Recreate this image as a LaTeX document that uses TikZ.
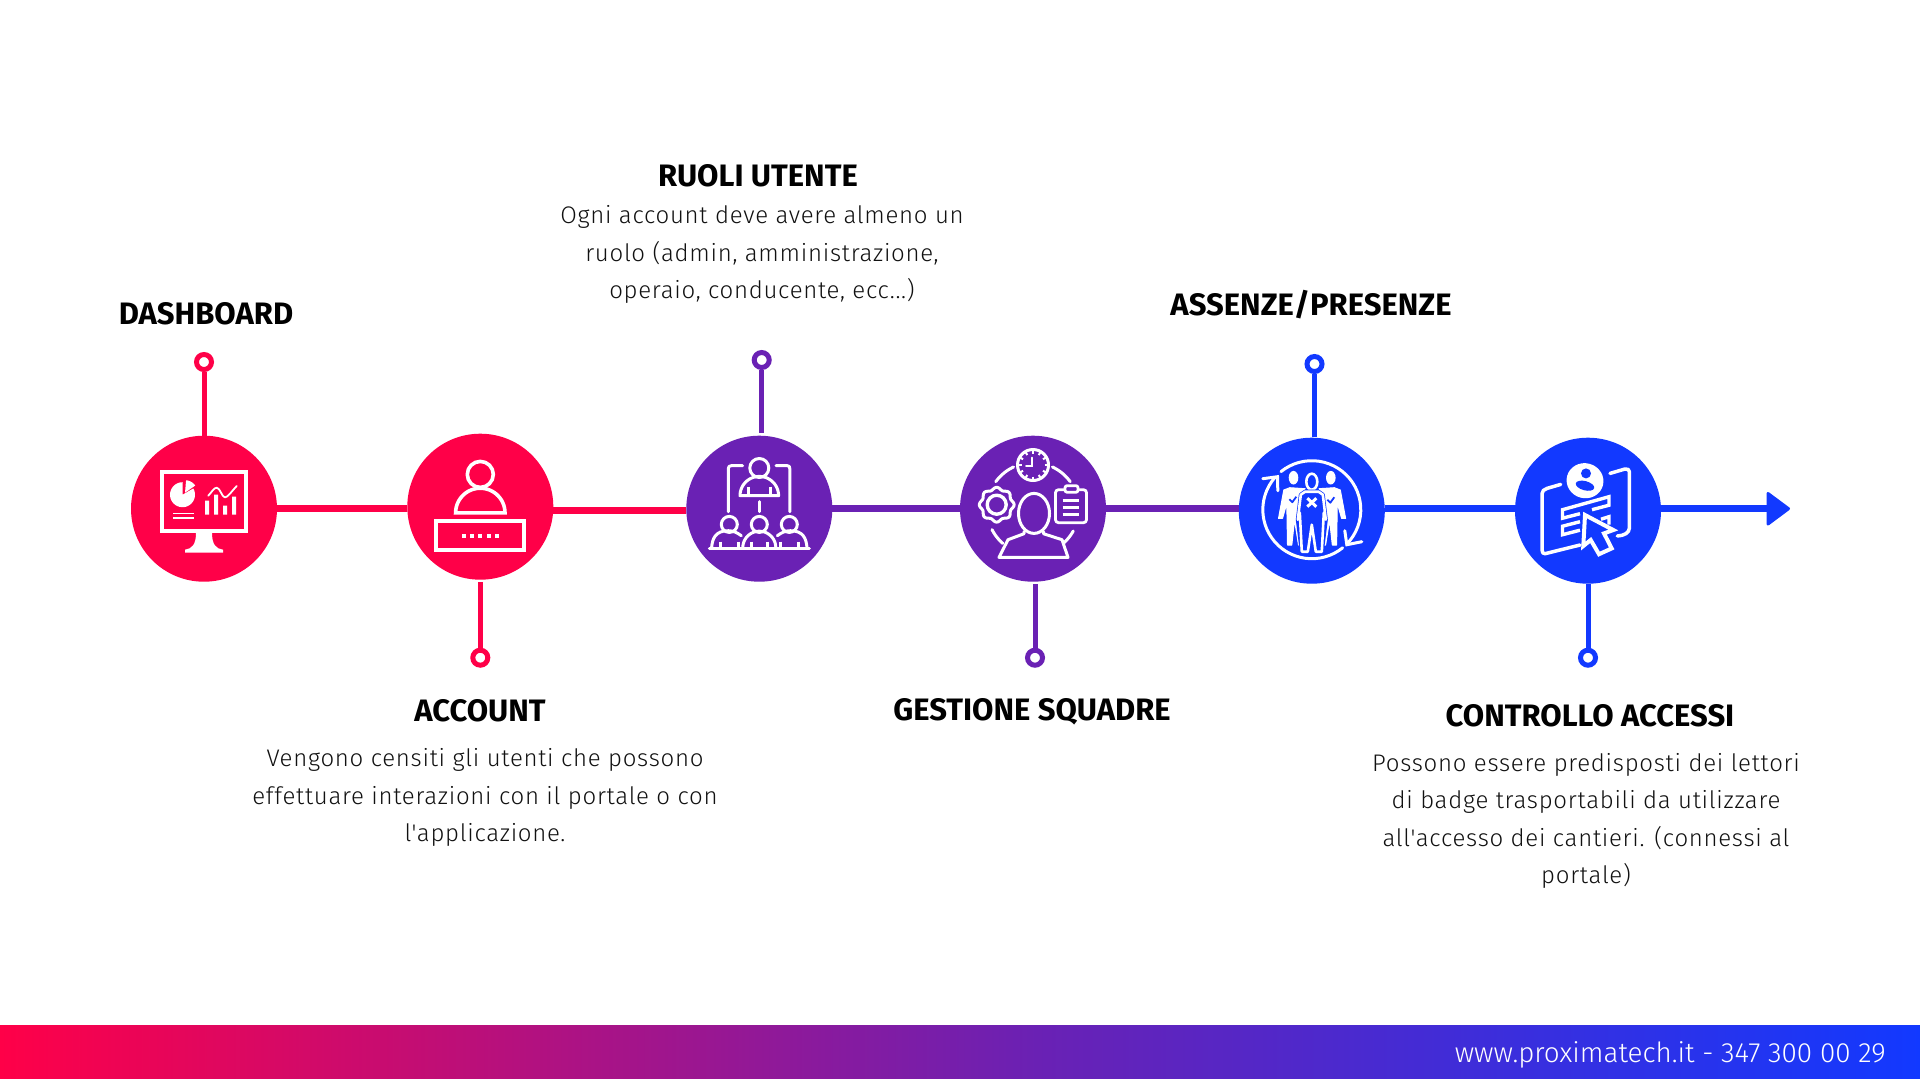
\documentclass[tikz,border=0pt]{standalone}
\usepackage{fontspec}
\setmainfont{Fira Sans}
\newfontfamily\bodyface[LetterSpace=3]{Fira Sans Light}
\newfontfamily\titleface{Fira Sans}[BoldFont={Fira Sans Bold}]
\newfontfamily\footface{Fira Sans Light}
\definecolor{cred}{HTML}{FF0048}
\definecolor{cpur}{HTML}{6A21B4}
\definecolor{cblu}{HTML}{1239FF}
\definecolor{ctxt}{HTML}{111111}
\pgfdeclarehorizontalshading{barshade}{100bp}{color(0bp)=(cred); color(25bp)=(cred); color(52bp)=(cpur); color(75bp)=(cblu); color(100bp)=(cblu)}
\newcommand{\arcp}[5]{plot[domain=#4:#5,samples=30,variable=\t] ({#1+#3*cos(\t)},{#2+#3*sin(\t)})}
\tikzset{
  x=1pt,y=-1pt,
  disc/.style={circle,minimum size=146pt,inner sep=0pt,outer sep=0pt,fill=#1},
  pin/.style={circle,minimum size=15pt,inner sep=0pt,line width=5pt,draw=#1,fill=white},
  stem/.style={line width=5pt,draw=#1},
  track/.style={line width=6.5pt,draw=#1},
  heading/.style={font=\titleface\bfseries\fontsize{31}{37}\selectfont,text=black,inner sep=0pt},
  body/.style={font=\bodyface\fontsize{24}{37.6}\selectfont,text=ctxt,align=center,inner sep=0pt},
  ic/.style={draw=white,line width=#1,line cap=round,line join=round},
  ic/.default=3pt,
  icf/.style={fill=white,draw=none},
}
\begin{document}
\begin{tikzpicture}
\useasboundingbox (0,0) rectangle (1920,1080);
\fill[white] (0,0) rectangle (1920,1080);
% bottom bar
\node[inner sep=0pt,minimum width=1920pt,minimum height=53pt,shading=barshade] (bar) at (960,1051.5) {};
\node[font=\footface\fontsize{27.8}{33}\selectfont,text=white,anchor=east,inner sep=0pt] (foot) at (1886,1055) {www.proximatech.it - 347 300 00 29};
% discs
\node[disc=cred] (c1) at (204,508.7) {};
\node[disc=cred] (c2) at (480.3,506.7) {};
\node[disc=cpur] (c3) at (759.3,508.7) {};
\node[disc=cpur] (c4) at (1033,508.7) {};
\node[disc=cblu] (c5) at (1311.8,510.7) {};
\node[disc=cblu] (c6) at (1588,510.7) {};
% pins
\node[pin=cred] (p1) at (204,362) {};
\node[pin=cred] (p2) at (480.3,657.7) {};
\node[pin=cpur] (p3) at (761.7,360) {};
\node[pin=cpur] (p4) at (1035,657.7) {};
\node[pin=cblu] (p5) at (1314.5,364) {};
\node[pin=cblu] (p6) at (1588,657.7) {};
\coordinate (s1) at (204,436);
\coordinate (s2) at (480.3,582);
\coordinate (s3) at (761.7,433);
\coordinate (s4) at (1035,584);
\coordinate (s5) at (1314.5,437);
\coordinate (s6) at (1588,584);
\draw[stem=cred] (p1) -- (s1);
\draw[stem=cred] (s2) -- (p2);
\draw[stem=cpur] (p3) -- (s3);
\draw[stem=cpur] (s4) -- (p4);
\draw[stem=cblu] (p5) -- (s5);
\draw[stem=cblu] (s6) -- (p6);
% tracks
\coordinate (tip) at (1790,508.7);
\coordinate (neck) at (1767,508.7);
\draw[track=cred] ([yshift=-2pt]c2.west) -- (c1.east);
\draw[track=cred] ([yshift=-4pt]c2.east) -- ([yshift=-2pt]c3.west);
\draw[track=cpur] (c3.east) -- (c4.west);
\draw[track=cpur] (c4.east) -- ([yshift=2pt]c5.west);
\draw[track=cblu] ([yshift=2pt]c5.east) -- ([yshift=2pt]c6.west);
\draw[track=cblu] ([yshift=2pt]c6.east) -- (neck);
\fill[cblu,draw=cblu,line width=3pt,line join=round] (1768,493.5) -- (1788.5,508.7) -- (1768,524) -- cycle;
% icon 1
\begin{scope}[shift={(c1.center)}]
\draw[ic=4pt,line join=miter] (-42,-37) rectangle (42,22);
\fill[white] (-8,24) .. controls (-8,36) and (-12,40) .. (-19,41) -- (-19,44) -- (19,44) -- (19,41) .. controls (12,40) and (8,36) .. (8,24) -- cycle;
\fill[white] (-21.5,-14) -- plot[domain=-90:-390,samples=30,variable=\t] ({-21.5+12.5*cos(\t)},{-14+12.5*sin(\t)}) -- cycle;
\fill[white] (-19,-16) -- plot[domain=-85:-35,samples=12,variable=\t] ({-19+12.5*cos(\t)},{-16+12.5*sin(\t)}) -- cycle;
\draw[ic=1.6pt,line cap=butt] (-31,4.7) -- (-10,4.7) (-31,9) -- (-10,9);
\fill[white] (1,-8) rectangle (5,6) (10,-14) rectangle (14,6) (19,-3) rectangle (23,6) (28,-12) rectangle (32,6);
\draw[ic=1.8pt] (4.3,-13) .. controls (8,-17) and (10,-21) .. (12.7,-21) .. controls (16,-21) and (18,-11.3) .. (21,-11.3) .. controls (24,-11.3) and (28,-18) .. (32.7,-22.7);
\end{scope}
% icon 2
\begin{scope}[shift={(c2.center)}]
\draw[ic=3.6pt] (0,-32.3) circle[radius=13];
\draw[ic=3.6pt,line cap=butt,line join=miter] \arcp{0}{6.2}{24.7}{180}{360} -- cycle;
\draw[ic=4pt,line join=miter] (-44,14) rectangle (44,43.5);
\foreach \d in {-16.7,-8.3,0,8.3,16.7}{\fill[white] (\d-2,27) rectangle (\d+2,31);}
\end{scope}
% icon 3
\begin{scope}[shift={(c3.center)}]
\draw[ic=3pt] (0,-40.7) circle[radius=9.5];
\draw[ic=3pt] \arcp{0}{-13}{19.3}{180}{360} -- cycle;
\draw[ic=3pt,line cap=butt] (-11,-22) -- (-11,-13) (11,-22) -- (11,-13);
\draw[ic=3pt] (-16.7,-43) -- (-28,-43) .. controls (-30,-43) and (-31,-42) .. (-31,-40) -- (-31,3);
\draw[ic=3pt] (16.7,-43) -- (28,-43) .. controls (30,-43) and (30.5,-42) .. (30.5,-40) -- (30.5,3);
\draw[ic=3pt] (0,-7) -- (0,3);
\foreach \h in {-30,0,30}{\draw[ic=3pt] (\h,15.7) circle[radius=8];}
\draw[ic=3pt] (-50,39.3) -- (50,39.3);
\draw[ic=3pt] \arcp{0}{39}{16.5}{180}{360};
\draw[ic=3pt] (-47.7,39) .. controls (-47,30) and (-44,22) .. (-31,22) .. controls (-26,22) and (-22,24) .. (-18,27);
\draw[ic=3pt] (47.7,39) .. controls (47,30) and (44,22) .. (31,22) .. controls (26,22) and (22,24) .. (18,27);
\draw[ic=2.5pt,line cap=butt] (-39,33) -- (-39,39) (-21,33) -- (-21,39) (-8,33) -- (-8,39) (8,33) -- (8,39) (21,33) -- (21,39) (39,33) -- (39,39);
\end{scope}
% icon 4
\begin{scope}[shift={(c4.center)}]
\draw[ic=3pt] (0,-43.7) circle[radius=15.5];
\foreach \a in {0,30,...,330}{\draw[ic=2pt,line cap=butt] ({11.5*cos(\a)},{-43.7+11.5*sin(\a)}) -- ({15*cos(\a)},{-43.7+15*sin(\a)});}
\draw[ic=2pt,line join=miter] (-1,-51) -- (-1,-42.5) -- (-7,-42.5);
\draw[ic=3pt] \arcp{0}{0}{46}{216}{245};
\draw[ic=3pt] \arcp{0}{0}{46}{295}{324};
\draw[ic=3pt] \arcp{0}{0}{46}{131}{153};
\draw[ic=3pt] \arcp{0}{0}{46}{29}{48};
\draw[ic=3pt] plot[domain=0:360,samples=97,smooth,variable=\t] ({-36.3+(16.2+1.2*cos(8*\t))*cos(\t)},{-4+(16.2+1.2*cos(8*\t))*sin(\t)}) -- cycle;
\draw[ic=3.4pt] (-36.3,-4) circle[radius=9.5];
\draw[ic=2.8pt,rounded corners=3pt] (22.5,-19) rectangle (53.5,14);
\draw[ic=2.8pt,fill=cpur,rounded corners=2pt] (32,-23) rectangle (45,-16.5);
\draw[ic=3pt,line cap=butt] (29.5,-8.3) -- (45.7,-8.3) (29.5,-1.7) -- (45.7,-1.7) (29.5,5.3) -- (45.7,5.3);
\draw[ic=3pt] (1,4.7) ellipse[x radius=15.5,y radius=20];
\draw[ic=3pt,line join=round] (-9,23) -- (-9,25) -- (-25,31) -- (-34,48.7) -- (35,48.7) -- (29,31) -- (10.5,25) -- (10.5,23);
\end{scope}
% icon 5
\begin{scope}[shift={(c5.center)}]
\draw[ic=3pt] \arcp{0}{-1}{49}{-129}{44};
\draw[ic=3pt] \arcp{0}{-1}{49}{51}{221};
\draw[ic=3pt,line join=miter] (-49,-32) -- (-34.3,-34) -- (-34,-20);
\draw[ic=3pt,line join=miter] (50,31) -- (35,34) -- (33,20);
\fill[white] (-18.3,-33) ellipse[x radius=4.8,y radius=6.8];
\fill[white] (19,-33) ellipse[x radius=4.8,y radius=6.8];
\draw[ic=2.6pt] (0,-29) ellipse[x radius=5.5,y radius=8];
\filldraw[white,line width=1pt,line join=round] (-28,-20.7) -- (-33.3,7.7) -- (-29.3,7.7) -- (-25,-7.3) -- (-24.3,34.3) -- (-20,34.3) -- (-17.3,9.3) -- (-13.3,34.3) -- (-9,34.3) -- (-11.7,-17.3) -- (-6.7,-22) -- (-22,-23) -- cycle;
\filldraw[white,line width=1pt,line join=round] (28.5,-20.7) -- (33.8,7.7) -- (29.8,7.7) -- (25.5,-7.3) -- (24.8,34.3) -- (20.5,34.3) -- (17.8,9.3) -- (13.8,34.3) -- (9.5,34.3) -- (12.2,-17.3) -- (7.2,-22) -- (22.5,-23) -- cycle;
\draw[cblu,line width=4pt,line join=round,fill=cblu] (-11,-16) -- (-6.7,-19) -- (6.7,-19) -- (11,-16) -- (14,9) -- (10,41) -- (4,41) -- (0,14) -- (-4,41) -- (-10,41) -- (-14,9) -- cycle;
\draw[ic=2.6pt,fill=cblu] (-11,-16) -- (-6.7,-19) -- (6.7,-19) -- (11,-16) -- (14,9) -- (12,2) -- (10,41) -- (4,41) -- (0,14) -- (-4,41) -- (-10,41) -- (-12,2) -- (-14,9) -- cycle;
\draw[ic=3pt,line cap=butt] (-4.5,-12.5) -- (4.5,-4) (4.5,-12.5) -- (-4.5,-4);
\draw[cblu,line width=1.8pt,line join=round] (-22.5,-11.5) -- (-19.5,-8.5) -- (-15.5,-14);
\draw[cblu,line width=1.8pt,line join=round] (15.5,-11) -- (18.5,-8) -- (22.5,-13.5);
\end{scope}
% icon 6
\begin{scope}[shift={(c6.center)}]
\fill[white,rotate around={-15:(-3,-30)}] (-3,-30) ellipse[x radius=18.5,y radius=17.5];
\fill[cblu] (-2,-37.3) circle[radius=5];
\fill[cblu,rotate around={-15:(-3,-25)}] (-3,-25) ellipse[x radius=9.5,y radius=4.6];
\draw[ic=3.5pt] (-27.3,-26.3) -- (-41,-22.3) .. controls (-44,-21.5) and (-46,-19.5) .. (-46,-17) -- (-46,39) .. controls (-46,42) and (-45,43) .. (-43,43) -- (-8,34.3);
\draw[ic=3.5pt] (22,-37.3) -- (37,-41.7) .. controls (40,-42) and (41.3,-41) .. (41.3,-39) -- (41.3,17.7) .. controls (41.3,22) and (36,25) .. (29.3,25.3);
\draw[ic=3.4pt,line join=miter,line cap=butt] (-8,3) -- (-25.5,7.5) -- (-25.5,-1) -- (21,-14) -- (21,-5.5) -- (4,-1);
\draw[ic=3.4pt,line join=miter,line cap=butt] (-8,11) -- (-25.5,15.5) -- (-25.5,24) -- (-8,19.5);
\draw[ic=3.4pt,line join=miter,line cap=butt] (13,8.5) -- (21,6) -- (21,14);
\draw[ic=4pt,fill=cblu,line join=miter] (-3,4.3) -- (25.3,19.3) -- (16,22.7) -- (23.7,37.7) -- (11,43.5) -- (2.7,29.3) -- (-4.7,35.3) -- cycle;
\end{scope}
% labels
\node[heading] (t1) at (206,314) {DASHBOARD};
\node[heading] (t2) at (480,711) {ACCOUNT};
\node[heading] (t3) at (758,176) {RUOLI UTENTE};
\node[heading] (t4) at (1032,712) {GESTIONE SQUADRE};
\node[heading] (t5) at (1311,305) {ASSENZE/PRESENZE};
\node[heading] (t6) at (1590,716) {CONTROLLO ACCESSI};
\node[body] (b2) at (485,797.5) {Vengono censiti gli utenti che possono\\effettuare interazioni con il portale o con\\l'applicazione.};
\node[body] (b3) at (762,254.5) {Ogni account deve avere almeno un\\ruolo (admin, amministrazione,\\operaio, conducente, ecc...)};
\node[body] (b6) at (1586,821) {Possono essere predisposti dei lettori\\di badge trasportabili da utilizzare\\all'accesso dei cantieri. (connessi al\\portale)};
\end{tikzpicture}
\end{document}
